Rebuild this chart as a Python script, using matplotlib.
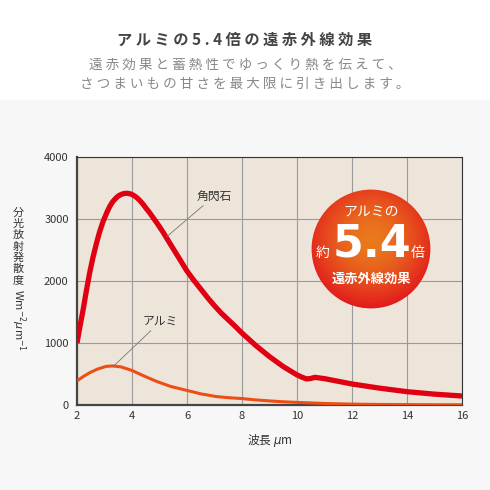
import numpy as np
import matplotlib
matplotlib.use("Agg")
import matplotlib.pyplot as plt
from matplotlib.patches import Circle, Rectangle

plt.rcParams['font.family'] = ['Noto Sans CJK JP', 'DejaVu Sans']
plt.rcParams['mathtext.fontset'] = 'dejavusans'

# 角閃石 (hornblende) spectral radiant emittance
hb_x = [2.0, 2.1, 2.22, 2.34, 2.46, 2.58, 2.7, 2.82, 2.94, 3.1, 3.2, 3.3, 3.4,
        3.5, 3.6, 3.7, 3.8, 3.9, 4.0, 4.1, 4.2, 4.3, 4.4, 4.5, 4.625, 4.75,
        4.875, 5.0, 5.125, 5.25, 5.5, 5.75, 6.0, 6.25, 6.5, 6.75, 7.0, 7.25,
        7.5, 7.75, 8.0, 8.5, 9.0, 9.5, 10.0, 10.2, 10.35, 10.5, 10.65, 11.0,
        12.0, 13.0, 14.0, 15.0, 16.0]
hb_y = [1000, 1250, 1530, 1840, 2130, 2380, 2595, 2790, 2950, 3120, 3210, 3280, 3330,
        3370, 3395, 3410, 3415, 3410, 3395, 3370, 3335, 3290, 3240, 3180, 3110, 3033,
        2955, 2875, 2790, 2700, 2520, 2340, 2160, 2010, 1870, 1730, 1600, 1480,
        1375, 1270, 1160, 960, 780, 620, 485, 445, 420, 428, 446, 425,
        339, 272, 215, 175, 145]

# アルミ (aluminium)
al_x = [2.0, 2.25, 2.46, 2.75, 3.06, 3.3, 3.6, 4.0, 4.4, 4.88, 5.4, 6.0, 6.5,
        7.05, 7.5, 8.0, 8.5, 9.0, 9.5, 10.0, 11.0, 12.0, 13.0, 14.0, 15.0, 16.0]
al_y = [390, 465, 520, 580, 623, 630, 615, 557, 475, 383, 300, 235, 180,
        137, 118, 104, 82, 66, 52, 42, 25, 14, 9, 6, 4, 3]

x_ticks = [2, 4, 6, 8, 10, 12, 14, 16]
y_ticks = [0, 1000, 2000, 3000, 4000]

title = "アルミの5.4倍の遠赤外線効果"
sub1 = "遠赤効果と蓄熱性でゆっくり熱を伝えて、"
sub2 = "さつまいもの甘さを最大限に引き出します。"
ylabel_jp = "分光放射発散度"


def spaced(s):
    return " ".join(list(s))


fig = plt.figure(figsize=(4.9, 4.9), dpi=100)
fig.patch.set_facecolor("white")
fig.add_artist(Rectangle((0, 0), 1, 1 - 100 / 490, transform=fig.transFigure,
                         facecolor="#f7f7f7", edgecolor="none", zorder=-10))

fig.text(0.5, 1 - 40 / 490, spaced(title), ha="center", va="center",
         fontsize=11, fontweight="bold", color="#444444")
fig.text(0.5, 1 - 65 / 490, spaced(sub1), ha="center", va="center",
         fontsize=9.8, color="#888888")
fig.text(0.5, 1 - 84 / 490, spaced(sub2), ha="center", va="center",
         fontsize=9.8, color="#888888")

ax = fig.add_axes([77 / 490, 1 - 405 / 490, 385 / 490, 248 / 490])
ax.set_facecolor("#ede5da")
ax.plot(hb_x, hb_y, color="#e00012", lw=3.8, solid_capstyle="butt",
        solid_joinstyle="round", zorder=3)
ax.plot(al_x, al_y, color="#ec4e14", lw=2.2, solid_capstyle="butt",
        solid_joinstyle="round", zorder=3)
ax.set_xlim(2, 16)
ax.set_ylim(0, 4000)
ax.set_xticks(x_ticks)
ax.set_yticks(y_ticks)
ax.grid(True, color="#9a9a9a", lw=0.8)
ax.set_axisbelow(True)
ax.tick_params(length=0, labelsize=8, colors="#333333")
ax.tick_params(axis="y", pad=6)
ax.tick_params(axis="x", pad=4)
for side in ["top", "right"]:
    ax.spines[side].set_color("#333333")
    ax.spines[side].set_linewidth(0.8)
for side in ["left", "bottom"]:
    ax.spines[side].set_color("#444444")
    ax.spines[side].set_linewidth(1.6)

ax.annotate("角閃石", xy=(5.26, 2714), xytext=(6.35, 3263), fontsize=8.5,
            color="#333333", ha="left", va="bottom",
            arrowprops=dict(arrowstyle="-", color="#777777", lw=0.6,
                            shrinkA=0, shrinkB=0))
ax.annotate("アルミ", xy=(3.30, 614), xytext=(4.4, 1244), fontsize=8.5,
            color="#333333", ha="left", va="bottom",
            arrowprops=dict(arrowstyle="-", color="#777777", lw=0.6,
                            shrinkA=0, shrinkB=0))

# axis labels
fig.text(270 / 490, 1 - 440 / 490, "波長 $\\mu$m", ha="center", va="center",
         fontsize=8.5, color="#333333")
# vertical writing: one character per line
for i, ch in enumerate(ylabel_jp):
    fig.text(18 / 490, 1 - (213 + i * 11.2) / 490, ch, ha="center",
             va="center", fontsize=8, color="#333333")
fig.text(18 / 490, 1 - 320 / 490, "Wm$^{-2}$$\\mu$m$^{-1}$", ha="center",
         va="center", fontsize=8, color="#333333", rotation=270)

# gradient badge
cax = fig.add_axes([311 / 490, 1 - 309 / 490, 120 / 490, 120 / 490])
cax.set_xlim(-1, 1)
cax.set_ylim(-1, 1)
cax.axis("off")
gx, gy = np.meshgrid(np.linspace(-1, 1, 300), np.linspace(-1, 1, 300))
r = np.clip(np.sqrt(gx ** 2 + (gy - 0.15) ** 2) / 1.15, 0, 1)
c0 = np.array([234, 122, 30]) / 255
c1 = np.array([226, 24, 28]) / 255
img = c0[None, None, :] * (1 - r[..., None] ** 1.6) + c1[None, None, :] * r[..., None] ** 1.6
im = cax.imshow(img, extent=(-1, 1, -1, 1), origin="lower", zorder=1)
circ = Circle((0, 0), 0.99, transform=cax.transData, facecolor="none", edgecolor="none")
cax.add_patch(circ)
im.set_clip_path(circ)

cax.text(0, 0.63, "アルミの", ha="center", va="center", fontsize=10,
         color="white", zorder=5)
cax.text(0.02, 0.08, "5.4", ha="center", va="center", fontsize=32,
         fontweight="bold", color="white", zorder=5, family="DejaVu Sans")
cax.text(-0.8, -0.07, "約", ha="center", va="center", fontsize=10,
         color="white", zorder=5)
cax.text(0.77, -0.07, "倍", ha="center", va="center", fontsize=10,
         color="white", zorder=5)
cax.text(0, -0.5, "遠赤外線効果", ha="center", va="center", fontsize=9.5,
         fontweight="bold", color="white", zorder=5)

fig.savefig("out.png", dpi=100)
